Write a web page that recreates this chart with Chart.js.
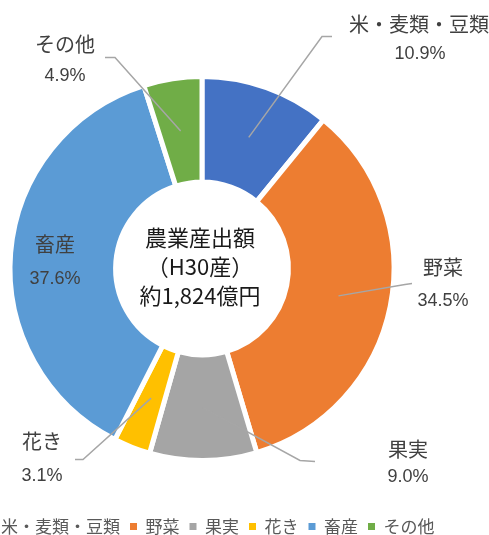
<!DOCTYPE html>
<html>
<head>
<meta charset="utf-8">
<script src="https://cdn.jsdelivr.net/npm/chart.js@4"></script>
<style>
  html, body { margin: 0; padding: 0; background: #fff; overflow: hidden; width: 489px; height: 535px; }
  #wrap { position: absolute; left: -58px; top: 0; width: 600px; height: 545px; }
</style>
</head>
<body>
<div id="wrap"><canvas id="graf" width="600" height="545"></canvas></div>
<script>
const categorias = ["米・麦類・豆類", "野菜", "果実", "花き", "畜産", "その他"]
const porcentagens = [10.9, 34.5, 9.0, 3.1, 37.6, 4.9]
const cores = ["#4472C4", "#ED7D31", "#A5A5A5", "#FFC000", "#5B9BD5", "#70AD47"]
const textoCentro = ["農業産出額", "（H30産）", "約1,824億円"]

// posição dos rótulos relativa ao centro do gráfico: nome, porcentagem, cotovelo e fim da linha
const rotulos = [
    { nome: [217, -244], pct: [218, -214], linha: [[120, -232], [130, -232]] },
    { nome: [241, -1], pct: [241, 33], linha: [[203, 16], [210, 15]] },
    { nome: [206, 181], pct: [206, 209], linha: [[98, 192], [113, 193]] },
    { nome: [-160, 173], pct: [-160, 208], linha: [[-119, 191], [-127, 191]] },
    { nome: [-147, -24], pct: [-147, 11], linha: null },
    { nome: [-137, -224], pct: [-137, -192], linha: [[-87, -211], [-97, -211]] }
]

const rotulosPlugin = {
    id: "rotulos",
    afterDatasetsDraw(chart) {
        const ctx = chart.ctx
        const arcs = chart.getDatasetMeta(0).data
        ctx.save()
        arcs.forEach((arc, i) => {
            const r = rotulos[i]
            const cx = arc.x, cy = arc.y
            if (r.linha) {
                const meio = (arc.startAngle + arc.endAngle) / 2
                const raio = (arc.innerRadius + arc.outerRadius) / 2
                ctx.beginPath()
                ctx.moveTo(cx + Math.cos(meio) * raio, cy + Math.sin(meio) * raio)
                r.linha.forEach(p => ctx.lineTo(cx + p[0], cy + p[1]))
                ctx.strokeStyle = "#A6A6A6"
                ctx.lineWidth = 1.5
                ctx.stroke()
            }
            ctx.fillStyle = "#404040"
            ctx.textAlign = "center"
            ctx.textBaseline = "middle"
            ctx.font = "20px 'Noto Sans CJK JP', sans-serif"
            ctx.fillText(categorias[i], cx + r.nome[0], cy + r.nome[1])
            ctx.font = "18px 'Liberation Sans', Arial, sans-serif"
            ctx.fillText(porcentagens[i].toFixed(1) + "%", cx + r.pct[0], cy + r.pct[1])
        })
        // texto central
        const a = arcs[0]
        ctx.fillStyle = "#1a1a1a"
        ctx.font = "22px 'Noto Sans CJK JP', sans-serif"
        textoCentro.forEach((t, k) => {
            ctx.fillText(t, a.x - 2, a.y - 31 + k * 29)
        })
        ctx.restore()
    }
}

const myChart = new Chart(document.getElementById("graf"), {
    type: "doughnut",
    data: {
        labels: categorias,
        datasets: [{
            data: porcentagens,
            backgroundColor: cores,
            borderColor: "#ffffff",
            borderWidth: 5
        }]
    },
    options: {
        responsive: false,
        animation: false,
        radius: 192,
        cutout: "45%",
        layout: { padding: { top: 29, right: 80 } },
        plugins: {
            tooltip: { enabled: false },
            legend: {
                position: "bottom",
                labels: {
                    boxWidth: 7,
                    boxHeight: 7,
                    padding: 10,
                    color: "#595959",
                    font: { size: 17, family: "'Noto Sans CJK JP', sans-serif" },
                    generateLabels(chart) {
                        return Chart.overrides.doughnut.plugins.legend.labels.generateLabels(chart)
                            .map(l => ({ ...l, lineWidth: 0, strokeStyle: l.fillStyle }))
                    }
                }
            }
        }
    },
    plugins: [rotulosPlugin, {
        id: "desloca",
        afterLayout(chart) { // legenda um pouco à direita, como no original
            chart.legend.left += 8
            chart.legend.right += 8
        }
    }]
})
</script>
</body>
</html>
